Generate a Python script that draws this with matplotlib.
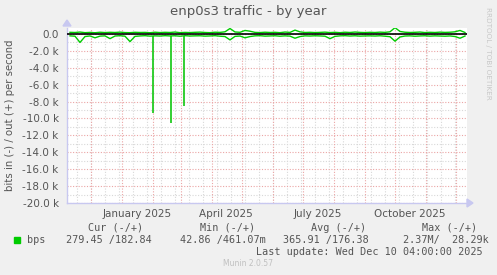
import numpy as np
import pandas as pd
import matplotlib
matplotlib.use("Agg")
import matplotlib.pyplot as plt
import matplotlib.dates as mdates

# data: 5-day samples ending at last update, bits per second
dates = pd.date_range(end="2025-12-10", periods=80, freq="5D")
out_bps = [200, 180, 230, 160, 190, 150, 210, 170, 200, 180,
           220, 170, 160, 200, 180, 190, 150, 210, 170, 200,
           180, 230, 160, 190, 170, 200, 220, 180, 160, 210,
           190, 260, 650, 240, 200, 420, 330, 190, 170, 210,
           180, 200, 160, 230, 190, 460, 250, 180, 200, 170,
           190, 220, 170, 200, 160, 210, 180, 230, 190, 170,
           200, 180, 220, 190, 260, 750, 300, 210, 180, 200,
           230, 170, 200, 180, 220, 190, 210, 260, 420, 180]
in_bps = [-220, -260, -1000, -300, -230, -450, -250, -220, -550, -240,
          -200, -260, -900, -280, -230, -200, -250, -220, -240, -200,
          -230, -210, -260, -200, -240, -220, -210, -250, -230, -200,
          -260, -300, -700, -280, -240, -450, -300, -220, -200, -250,
          -230, -210, -260, -220, -250, -500, -300, -220, -240, -210,
          -230, -260, -550, -280, -220, -200, -240, -210, -250, -230,
          -220, -240, -210, -260, -320, -850, -350, -240, -220, -260,
          -230, -210, -250, -220, -240, -260, -230, -300, -500, -240]
spike_dates = pd.to_datetime(["2025-02-01", "2025-02-19", "2025-03-04"])
spike_vals = [-9300, -10500, -8550]

yticks = list(range(0, -20001, -2000))
month_labels = ["January 2025", "April 2025", "July 2025", "October 2025"]
label_dates = pd.to_datetime(["2025-01-16", "2025-04-15", "2025-07-16", "2025-10-16"])

legend_cols = ["Cur (-/+)", "Min (-/+)", "Avg (-/+)", "Max (-/+)"]
legend_vals = ["279.45 /182.84", "42.86 /461.07m", "365.91 /176.38", "2.37M/  28.29k"]

W, H = 497, 275
bg = "#F0F0F0"
fig = plt.figure(figsize=(W / 100, H / 100), dpi=100, facecolor=bg)
ax = fig.add_axes([67 / W, 1 - 203 / H, 400 / W, 175 / H])
ax.set_facecolor("white")

x0 = pd.Timestamp("2024-11-07")
x1 = pd.Timestamp("2025-12-12")
ax.set_xlim(x0, x1)
ax.set_ylim(-20000, 710)

# grid
for d in pd.date_range("2024-11-17", x1, freq="14D"):
    ax.axvline(d, color="#D8D8D8", lw=0.8, ls=(0, (1, 1.5)), zorder=1)
for v in range(-19000, 1, 2000):
    ax.axhline(v, color="#D8D8D8", lw=0.8, ls=(0, (1, 1.5)), zorder=1)
for d in pd.date_range("2024-12-01", x1, freq="MS"):
    ax.axvline(d, color="#EBA5A5", lw=0.8, ls=(0, (1, 1.5)), zorder=1)
for v in yticks:
    ax.axhline(v, color="#EBA5A5", lw=0.8, ls=(0, (1, 1.5)), zorder=1)

# series
ax.vlines(spike_dates, -250, spike_vals, color="#22CC22", lw=1.3, zorder=3)
ax.plot(dates, out_bps, color="#00CC00", lw=1.0, zorder=3)
ax.plot(dates, in_bps, color="#00CC00", lw=1.0, zorder=3)
ax.axhline(0, color="black", lw=1.2, zorder=4)

for s in ["top", "right"]:
    ax.spines[s].set_visible(False)
for s in ["left", "bottom"]:
    ax.spines[s].set_color("#C8C8F0")
    ax.spines[s].set_linewidth(1)

ax.set_yticks(yticks)
ax.set_yticklabels(["0.0" if v == 0 else f"{v / 1000:.1f} k" for v in yticks])
ax.set_xticks(label_dates)
ax.set_xticklabels(month_labels)
ax.tick_params(axis="both", length=0, colors="#555555", labelsize=7.5)
ax.tick_params(axis="y", pad=6)
ax.tick_params(axis="x", pad=4)

# arrows on axes
fig.patches.append(matplotlib.patches.Polygon(
    [[63 / W, 1 - 26 / H], [71 / W, 1 - 26 / H], [67 / W, 1 - 20 / H]],
    closed=True, transform=fig.transFigure, color="#C8C8F0"))
fig.patches.append(matplotlib.patches.Polygon(
    [[467 / W, 1 - 199 / H], [467 / W, 1 - 207 / H], [473 / W, 1 - 203 / H]],
    closed=True, transform=fig.transFigure, color="#C8C8F0"))

def px(x, y):
    return x / W, 1 - y / H

fig.text(*px(248, 12), "enp0s3 traffic - by year", ha="center", va="center",
         fontsize=9.5, color="#555555")
fig.text(*px(10, 115), "bits in (-) / out (+) per second", rotation=90,
         ha="center", va="center", fontsize=7.3, color="#555555")
fig.text(*px(488, 53), "RRDTOOL / TOBI OETIKER", rotation=-90,
         ha="center", va="center", fontsize=5.2, color="#C8C8C8")

mono = "DejaVu Sans Mono"
for cx, t in zip([116, 228, 339, 450], legend_cols):
    fig.text(*px(cx, 228), t, ha="center", va="center", family=mono,
             fontsize=7.3, color="#555555")
fig.patches.append(matplotlib.patches.Rectangle(
    px(14, 243), 6 / W, 6 / H, transform=fig.transFigure, color="#00CC00"))
fig.text(*px(27, 240), "bps", ha="left", va="center", family=mono,
         fontsize=7.3, color="#555555")
for lx, t in zip([66, 180, 283, 403], legend_vals):
    fig.text(*px(lx, 240), t, ha="left", va="center", family=mono,
             fontsize=7.3, color="#555555")
fig.text(*px(482.5, 252), "Last update: Wed Dec 10 04:00:00 2025", ha="right",
         va="center", family=mono, fontsize=7.3, color="#555555")
fig.text(*px(248, 264), "Munin 2.0.57", ha="center", va="center",
         fontsize=5.5, color="#C0C0C0")

fig.savefig("out.png", dpi=100, facecolor=bg)
